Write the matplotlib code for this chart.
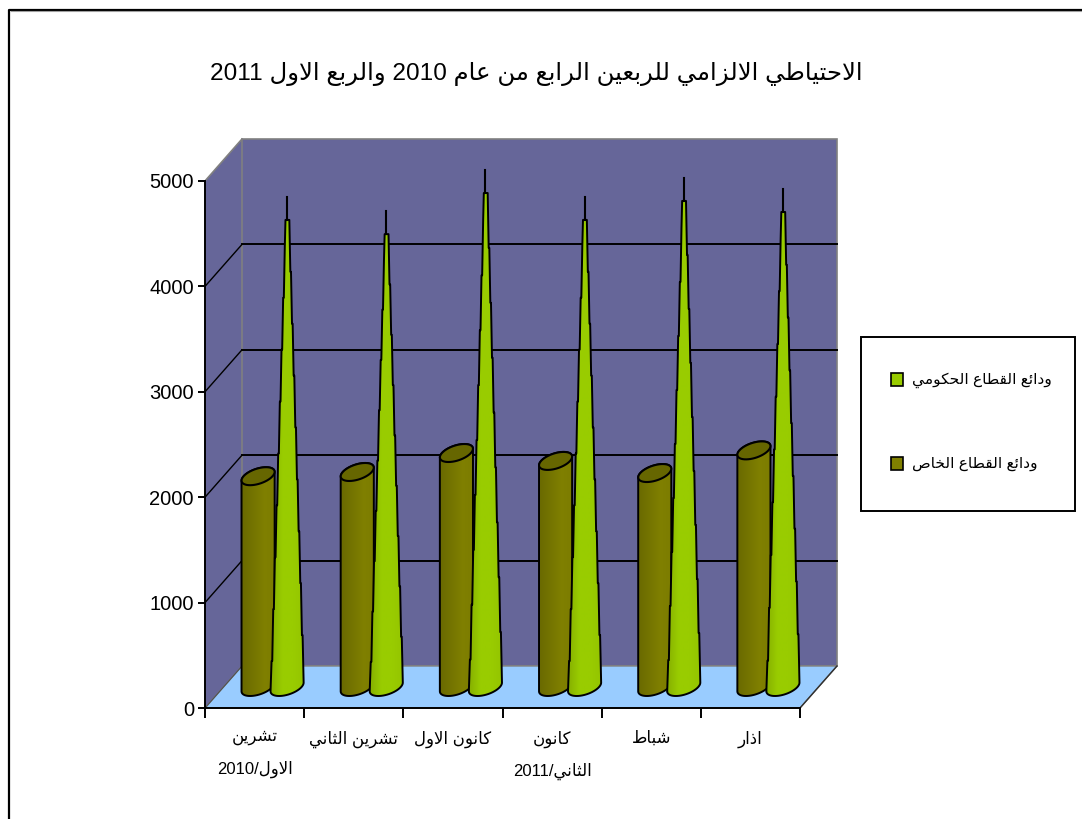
import re
import numpy as np
import matplotlib
matplotlib.use('Agg')
import matplotlib.pyplot as plt
from matplotlib.colors import LinearSegmentedColormap
from matplotlib.lines import Line2D
from matplotlib.patches import Polygon, Rectangle

plt.rcParams['font.family'] = ['Liberation Sans', 'DejaVu Sans']

title = 'الاحتياطي الالزامي للربعين الرابع من عام 2010 والربع الاول 2011'
categories = ['تشرين\nالاول/2010', 'تشرين الثاني', 'كانون الاول',
              'كانون\nالثاني/2011', 'شباط', 'اذار']
private_name = 'ودائع القطاع الخاص'
government_name = 'ودائع القطاع الحكومي'
private_deposits = [2000, 2040, 2220, 2145, 2030, 2245]
government_deposits = [4650, 4515, 4905, 4650, 4830, 4725]
y_ticks = [0, 1000, 2000, 3000, 4000, 5000]

# contextual forms: isolated, final, initial, medial
FORMS = {
    'ا': (0xFE8D, 0xFE8E), 'د': (0xFEA9, 0xFEAA), 'ذ': (0xFEAB, 0xFEAC), 'ر': (0xFEAD, 0xFEAE),
    'ز': (0xFEAF, 0xFEB0), 'و': (0xFEED, 0xFEEE),
    'ب': (0xFE8F, 0xFE90, 0xFE91, 0xFE92), 'ت': (0xFE95, 0xFE96, 0xFE97, 0xFE98),
    'ث': (0xFE99, 0xFE9A, 0xFE9B, 0xFE9C), 'ح': (0xFEA1, 0xFEA2, 0xFEA3, 0xFEA4),
    'خ': (0xFEA5, 0xFEA6, 0xFEA7, 0xFEA8), 'ش': (0xFEB5, 0xFEB6, 0xFEB7, 0xFEB8),
    'ص': (0xFEB9, 0xFEBA, 0xFEBB, 0xFEBC), 'ط': (0xFEC1, 0xFEC2, 0xFEC3, 0xFEC4),
    'ع': (0xFEC9, 0xFECA, 0xFECB, 0xFECC), 'ق': (0xFED5, 0xFED6, 0xFED7, 0xFED8),
    'ك': (0xFED9, 0xFEDA, 0xFEDB, 0xFEDC), 'ل': (0xFEDD, 0xFEDE, 0xFEDF, 0xFEE0),
    'م': (0xFEE1, 0xFEE2, 0xFEE3, 0xFEE4), 'ن': (0xFEE5, 0xFEE6, 0xFEE7, 0xFEE8),
    'ي': (0xFEF1, 0xFEF2, 0xFEF3, 0xFEF4), 'ئ': (0xFE89, 0xFE8A, 0xFE8B, 0xFE8C),
}


def shape_word(word):
    # matplotlib does no arabic joining, so pick the forms here
    out = []
    i = 0
    joined = False
    while i < len(word):
        ch = word[i]
        if ch == 'ل' and word[i + 1:i + 2] == 'ا':
            out.append(chr(0xFEFC if joined else 0xFEFB))
            joined = False
            i += 2
            continue
        forms = FORMS[ch]
        next_ok = i + 1 < len(word) and len(forms) == 4
        if joined and next_ok:
            out.append(chr(forms[3]))
        elif joined:
            out.append(chr(forms[1]))
        elif next_ok:
            out.append(chr(forms[2]))
        else:
            out.append(chr(forms[0]))
        joined = next_ok
        i += 1
    return ''.join(reversed(out))


def rtl(text):
    lines = []
    for line in text.split('\n'):
        words = []
        for word in reversed(line.split(' ')):
            runs = re.findall(r'[\u0600-\u06FF]+|[0-9]+|[^\u0600-\u06FF0-9]+', word)
            words.append(''.join(shape_word(r) if r[0] >= '\u0600' else r
                                 for r in reversed(runs)))
        lines.append(' '.join(words))
    return '\n'.join(lines)


fig = plt.figure(figsize=(10.82, 8.19), dpi=100, facecolor='white')

# page furniture in pixel coordinates
page = fig.add_axes([0, 0, 1, 1])
page.set_xlim(0, 1082)
page.set_ylim(819, 0)
page.axis('off')
page.add_line(Line2D([8.5, 8.5, 1082], [819, 9.5, 9.5], color='black', lw=1.6))
page.add_line(Line2D([10.5, 1082], [11.2, 11.2], color='#a0a0a0', lw=0.8))
page.text(536, 74, rtl(title), ha='center', va='center', fontsize=17.6)

page.add_patch(Rectangle((861, 337), 214, 174, fc='white', ec='black', lw=1.4))
page.add_patch(Rectangle((891, 373), 12, 13, fc='#99CC00', ec='black', lw=1.2))
page.add_patch(Rectangle((891, 457), 12, 13, fc='#808000', ec='black', lw=1.2))
page.text(1052, 380, rtl(government_name), ha='right', va='center', fontsize=11.1)
page.text(1037, 464, rtl(private_name), ha='right', va='center', fontsize=11.1)

ax = fig.add_axes([205 / 1082, 111 / 819, 595 / 1082, 527 / 819])
ax.patch.set_visible(False)

px_x = 6 / 595
px_y = 5000 / 527
depth_x = 37 * px_x
depth_y = 42 * px_y
top = 5000

wall = '#666699'
edge = '#808080'
ax.add_patch(Polygon([(0, 0), (depth_x, depth_y), (depth_x, top + depth_y), (0, top)],
                     fc=wall, ec='none', clip_on=False, zorder=1))
ax.add_patch(Polygon([(depth_x, depth_y), (6 + depth_x, depth_y),
                      (6 + depth_x, top + depth_y), (depth_x, top + depth_y)],
                     fc=wall, ec=edge, lw=1.2, clip_on=False, zorder=1))
ax.add_patch(Polygon([(0, 0), (6, 0), (6 + depth_x, depth_y), (depth_x, depth_y)],
                     fc='#99CCFF', ec=edge, lw=1, clip_on=False, zorder=1.1))
ax.plot([6, 6 + depth_x], [0, depth_y], color='#303030', lw=1, clip_on=False, zorder=1.2)
ax.plot([0, depth_x], [0, depth_y], color='#505050', lw=0.8, clip_on=False, zorder=1.2)
ax.plot([0, depth_x], [top, top + depth_y], color=edge, lw=1.2, clip_on=False, zorder=1.2)

for v in y_ticks[1:-1]:
    ax.plot([0, depth_x], [v, v + depth_y], color='black', lw=1, clip_on=False, zorder=1.3)
    ax.plot([depth_x, 6 + depth_x], [v + depth_y] * 2, color='black', lw=1.4,
            clip_on=False, zorder=1.3)

olive_map = LinearSegmentedColormap.from_list('olive', ['#696900', '#747400', '#808000', '#7c7c00'])
green_map = LinearSegmentedColormap.from_list('green', ['#86b000', '#99CC00', '#99CC00', '#94c400'])

half_w = 14.5 * px_x
ell_x = 8 * px_x
ell_y = 9 * px_y
t_side = np.arctan2(ell_x, half_w)
extent_x = np.hypot(half_w, ell_x)
arc = np.linspace(t_side - np.pi, t_side, 30)


def ellipse(cx, cy, t):
    return np.column_stack([cx + half_w * np.cos(t) + ell_x * np.sin(t), cy + ell_y * np.sin(t)])


def shaded(points, cx, low, high, cmap, z):
    shape = Polygon(points, transform=ax.transData, fc='none', ec='black', lw=1.4,
                    joinstyle='round', clip_on=False, zorder=z + 0.1)
    im = ax.imshow(np.linspace(0, 1, 64).reshape(1, -1), cmap=cmap, aspect='auto', zorder=z,
                   extent=(cx - extent_x, cx + extent_x, low, high), interpolation='bilinear')
    im.set_clip_box(fig.bbox)
    ax.add_patch(shape)
    im.set_clip_path(shape)


def cylinder(cx, value, z):
    base = depth_y / 2
    lower = ellipse(cx, base, arc)
    upper = ellipse(cx, base + value, arc + np.pi)
    shaded(np.vstack([lower, upper]), cx, base - ell_y, base + value + ell_y, olive_map, z)
    ax.add_patch(Polygon(ellipse(cx, base + value, np.linspace(0, 2 * np.pi, 50)),
                         fc='#666600', ec='black', lw=1.5, clip_on=False, zorder=z + 0.2))


def side_width(fraction):
    # the sides never close up fully below the thin tip line
    return extent_x * (1 - fraction) * 0.9 + 1.6 * px_x


def cone(cx, value, z):
    # stair-stepped sides like the old chart renderer, left side offset by half a step
    base = depth_y / 2
    steps = 9
    body = value - 23 * px_y
    step = body / steps
    base_right = ellipse(cx, base, arc)[-1][1]
    base_left = ellipse(cx, base, arc)[0][1]
    right, left = [], []
    for k in range(steps):
        wide = extent_x if k == 0 else side_width(k / steps)
        narrow = side_width((k + 0.6) / steps)
        right += [(cx + wide, max(base + k * step, base_right)), (cx + narrow, base + (k + 1) * step)]
        low = base_left if k == 0 else base + (k - 0.5) * step
        top_left = min(base + (k + 0.5) * step, base + body)
        left += [(cx - wide, low), (cx - narrow, top_left)]
    left.append((cx - side_width(1), base + body))
    outline = np.vstack([ellipse(cx, base, arc), right, left[::-1]])
    shaded(outline, cx, base - ell_y, base + body, green_map, z)
    ax.plot([cx, cx], [base + body, base + value], color='black', lw=1.5,
            clip_on=False, zorder=z + 0.1)


for i in range(len(categories)):
    middle = i + 0.5 + depth_x / 2
    cylinder(middle - 15 * px_x, private_deposits[i], 3 + i)
    cone(middle + 14 * px_x, government_deposits[i], 3.5 + i)

ax.set_xlim(0, 6)
ax.set_ylim(0, top)
ax.spines['top'].set_visible(False)
ax.spines['right'].set_visible(False)
ax.spines['left'].set_linewidth(1.4)
ax.spines['bottom'].set_linewidth(1.4)
ax.set_yticks(y_ticks)
ax.set_xticks(range(7))
ax.set_xticklabels([])
ax.set_xticks(np.arange(6) + 0.5, [rtl(c) for c in categories], minor=True)
ax.tick_params(axis='y', length=5, width=1.4, labelsize=14.5, pad=3)
ax.tick_params(axis='x', which='major', length=7, width=1.4)
ax.tick_params(axis='x', which='minor', length=0, labelsize=12, pad=16)
for label in ax.get_xticklabels(minor=True):
    label.set_linespacing(2.2)

fig.savefig('out.png', dpi=100)
